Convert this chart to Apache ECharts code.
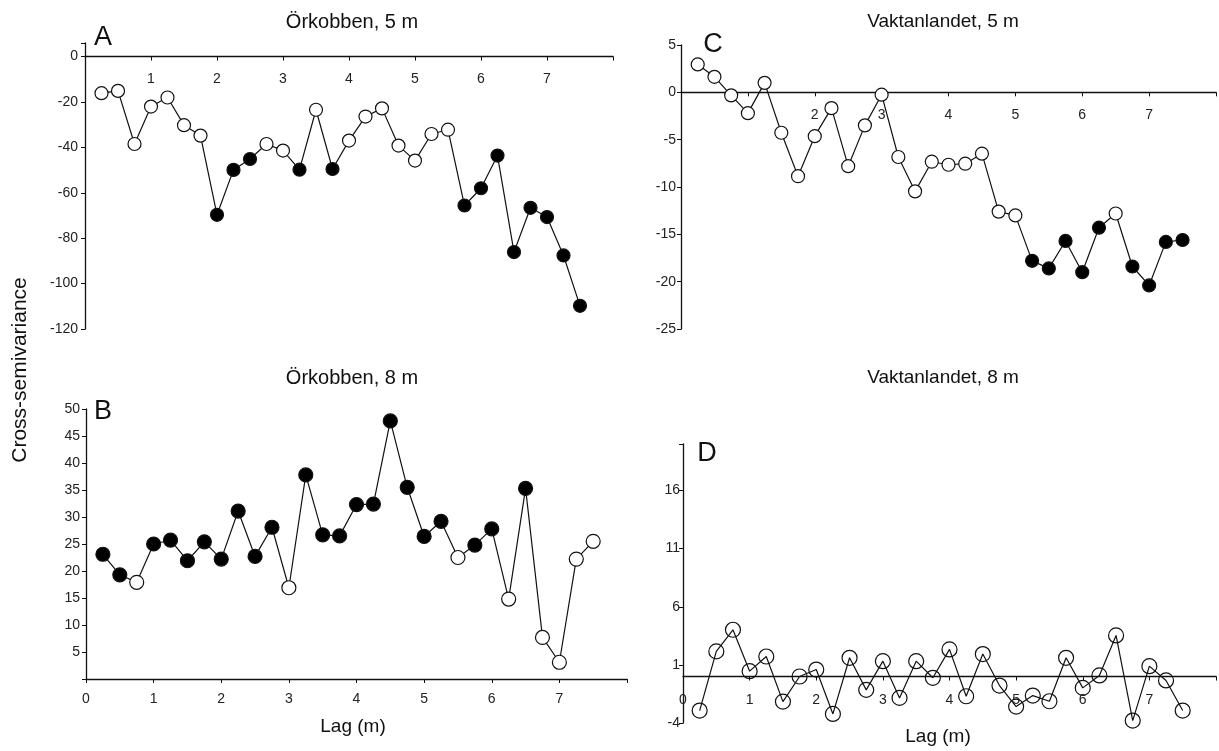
<!DOCTYPE html>
<html>
<head>
<meta charset="utf-8">
<script src="https://cdn.jsdelivr.net/npm/echarts@6/dist/echarts.min.js"></script>
<style>
html, body { margin: 0; padding: 0; background: #fff; }
#chart { width: 1219px; height: 751px; }
</style>
</head>
<body>
<div id="chart"></div>
<script>
// lag classes (m)
const lags = [0.25, 0.5, 0.75, 1, 1.25, 1.5, 1.75, 2, 2.25, 2.5, 2.75, 3, 3.25, 3.5, 3.75,
    4, 4.25, 4.5, 4.75, 5, 5.25, 5.5, 5.75, 6, 6.25, 6.5, 6.75, 7, 7.25, 7.5]

// A: Örkobben, 5 m
const orkobben5 = [-16.1, -15.1, -38.5, -22, -18, -30.2, -34.8, -69.7, -49.9, -45.1, -38.5, -41.4, -49.8, -23.4, -49.5,
    -37, -26.4, -22.8, -39.2, -45.8, -34.1, -32.2, -65.6, -58, -43.6, -86.1, -66.6, -70.7, -87.6, -109.8]
const orkobben5Filled = [0, 0, 0, 0, 0, 0, 0, 1, 1, 1, 0, 0, 1, 0, 1, 0, 0, 0, 0, 0, 0, 0, 1, 1, 1, 1, 1, 1, 1, 1]

// B: Örkobben, 8 m
const orkobben8 = [23.1, 19.3, 17.9, 25.0, 25.7, 21.9, 25.4, 22.2, 31.1, 22.7, 28.1, 16.9, 37.8, 26.7, 26.5,
    32.3, 32.4, 47.8, 35.5, 26.4, 29.2, 22.5, 24.8, 27.8, 14.8, 35.3, 7.7, 3.1, 22.2, 25.5]
const orkobben8Filled = [1, 1, 0, 1, 1, 1, 1, 1, 1, 1, 1, 0, 1, 1, 1, 1, 1, 1, 1, 1, 1, 0, 1, 1, 0, 1, 0, 0, 0, 0]

// C: Vaktanlandet, 5 m
const vaktan5 = [2.95, 1.64, -0.32, -2.2, 1.0, -4.27, -8.86, -4.63, -1.67, -7.8, -3.49, -0.25, -6.83, -10.46, -7.33,
    -7.65, -7.54, -6.48, -12.6, -13.0, -17.8, -18.6, -15.7, -19.0, -14.3, -12.8, -18.4, -20.4, -15.8, -15.6]
const vaktan5Filled = [0, 0, 0, 0, 0, 0, 0, 0, 0, 0, 0, 0, 0, 0, 0, 0, 0, 0, 0, 0, 1, 1, 1, 1, 1, 0, 1, 1, 1, 1]

// D: Vaktanlandet, 8 m (alla punkter ofyllda)
const vaktan8 = [-2.93, 2.16, 4.02, 0.46, 1.72, -2.16, 0.0, 0.6, -3.22, 1.61, -1.15, 1.32, -1.84, 1.32, -0.11,
    2.33, -1.7, 1.93, -0.78, -2.59, -1.64, -2.13, 1.61, -0.98, 0.09, 3.53, -3.79, 0.89, -0.34, -2.93]

const panelTitles = ['Örkobben, 5 m', 'Örkobben, 8 m', 'Vaktanlandet, 5 m', 'Vaktanlandet, 8 m']
const panelLetters = ['A', 'B', 'C', 'D']

const ink = '#111'
const labelFont = { fontFamily: 'Liberation Sans, Arial, sans-serif', fontSize: 14, color: '#222' }

// grid boxes: [left, top, width, height]
const boxes = [[85, 43, 528, 286], [86, 409, 541, 270], [681, 45, 536, 284], [683, 444, 536, 279]]
// y ranges: [min, max, interval]
const yRanges = [[-120, 6, 20], [0, 50, 5], [-25, 5, 5], [-4, 20, 5]]

// px distance from grid edge down/up to the y=0 line
function zeroOffset(i) {
    const [min, max] = yRanges[i]
    const h = boxes[i][3]
    return { fromTop: h * max / (max - min), fromBottom: h * (-min) / (max - min) }
}

function points(values, filled, hollow) {
    return values.map((v, i) => ({
        value: [lags[i], v],
        itemStyle: {
            color: hollow ? 'rgba(0,0,0,0)' : (filled[i] ? '#000' : '#fff'),
            borderColor: ink,
            borderWidth: 1.2
        }
    }))
}

// x-axel: ritas på y=0, etiketter under linjen
function xAxisFor(gridIndex, showZero) {
    const z = zeroOffset(gridIndex)
    const atTop = z.fromTop < z.fromBottom && yRanges[gridIndex][0] < 0
    const axis = {
        type: 'value', gridIndex, min: 0, max: 8, interval: 1,
        axisLine: { onZero: false, lineStyle: { color: ink, width: 1.3 } },
        axisTick: { length: 4, lineStyle: { color: ink } },
        splitLine: { show: false },
        axisLabel: Object.assign({}, labelFont, {
            formatter: v => (v === 8 || (v === 0 && !showZero)) ? '' : String(v)
        })
    }
    if (atTop) {
        axis.position = 'top'
        axis.offset = -z.fromTop
        axis.axisTick.inside = true
        axis.axisLabel.inside = true
        axis.axisLabel.margin = 16
    } else {
        axis.position = 'bottom'
        axis.offset = -z.fromBottom
        axis.axisLabel.margin = gridIndex === 3 ? 17 : 13
    }
    return axis
}

function yAxisFor(gridIndex, keep, margin) {
    const [min, max, interval] = yRanges[gridIndex]
    return {
        type: 'value', gridIndex, min, max, interval,
        axisLine: { show: true, onZero: false, lineStyle: { color: ink, width: 1.3 } },
        axisTick: { show: true, length: 4, lineStyle: { color: ink } },
        splitLine: { show: false },
        axisLabel: Object.assign({}, labelFont, {
            margin,
            formatter: v => keep(v) ? String(v) : ''
        })
    }
}

function lineSeries(idx, data, size) {
    return {
        type: 'line', xAxisIndex: idx, yAxisIndex: idx,
        data, symbol: 'circle', symbolSize: size,
        lineStyle: { color: ink, width: 1.2 },
        emphasis: { disabled: true },
        z: 3
    }
}

const textEl = (x, y, text, size, extra) => Object.assign({
    type: 'text', x, y,
    style: {
        text, fontSize: size, fill: '#111',
        fontFamily: 'Liberation Sans, Arial, sans-serif',
        align: 'center', verticalAlign: 'middle'
    }
}, extra || {})

const chart = echarts.init(document.getElementById('chart'))
chart.setOption({
    animation: false,
    backgroundColor: '#fff',
    grid: boxes.map(([left, top, width, height]) => ({ left, top, width, height })),
    xAxis: [xAxisFor(0, false), xAxisFor(1, true), xAxisFor(2, false), xAxisFor(3, true)],
    yAxis: [
        yAxisFor(0, v => v <= 0, 7),
        yAxisFor(1, v => v >= 5, 6),
        yAxisFor(2, () => true, 5),
        yAxisFor(3, v => v <= 16, 3)
    ],
    series: [
        lineSeries(0, points(orkobben5, orkobben5Filled), 13),
        lineSeries(1, points(orkobben8, orkobben8Filled), 14),
        lineSeries(2, points(vaktan5, vaktan5Filled), 13),
        lineSeries(3, points(vaktan8, null, true), 15)
    ],
    graphic: [
        textEl(352, 22, panelTitles[0], 20),
        textEl(352, 378, panelTitles[1], 20),
        textEl(943, 22, panelTitles[2], 19),
        textEl(943, 378, panelTitles[3], 19),
        textEl(103, 38, panelLetters[0], 27),
        textEl(103, 412, panelLetters[1], 27),
        textEl(713, 45, panelLetters[2], 27),
        textEl(707, 454, panelLetters[3], 27),
        textEl(353, 727, 'Lag (m)', 19),
        textEl(938, 737, 'Lag (m)', 19),
        textEl(20, 370, 'Cross-semivariance', 21, { rotation: Math.PI / 2 })
    ]
})

window.addEventListener('resize', () => chart.resize())
</script>
</body>
</html>
